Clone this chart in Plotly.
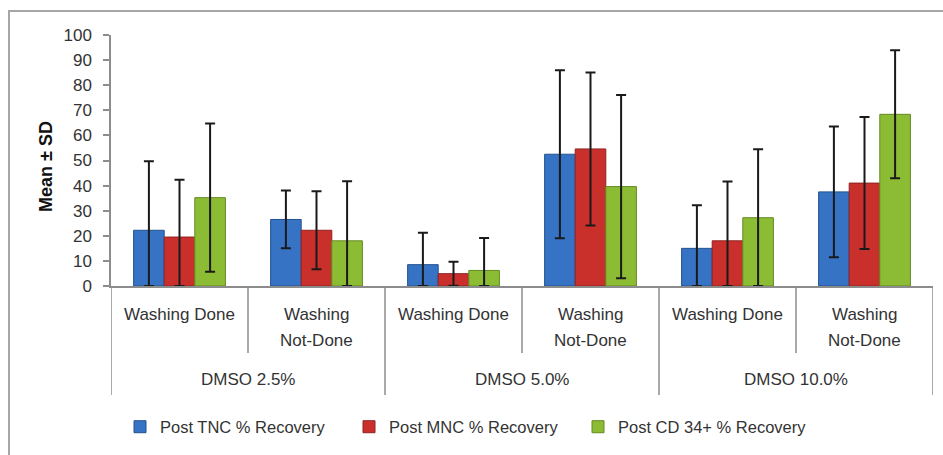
import plotly.graph_objects as go

# ---------------- data ----------------
dmso_levels = ["DMSO 2.5%", "DMSO 5.0%", "DMSO 10.0%"]
washing_labels = ["Washing Done", "Washing<br>Not-Done"]
categories = [f"{d} | {w}" for d in dmso_levels for w in washing_labels]

series_names = ["Post TNC % Recovery", "Post MNC % Recovery", "Post CD 34+ % Recovery"]
tnc_mean = [22.2, 26.5, 8.5, 52.5, 15.0, 37.5]
tnc_sd = [27.5, 11.5, 12.7, 33.5, 17.2, 26.0]
mnc_mean = [19.5, 22.2, 4.9, 54.6, 18.0, 41.0]
mnc_sd = [22.8, 15.5, 4.8, 30.5, 23.6, 26.3]
cd34_mean = [35.2, 18.0, 6.2, 39.6, 27.2, 68.4]
cd34_sd = [29.5, 23.7, 12.9, 36.5, 27.3, 25.5]

y_ticks = [0, 10, 20, 30, 40, 50, 60, 70, 80, 90, 100]

colors = ["#3673c4", "#c9302c", "#8cbc34"]
edge_colors = ["#24528f", "#902220", "#638a22"]

FONT = "Liberation Sans, Arial, sans-serif"
TXT = "#333333"
AX = "#8c8c8c"

fig = go.Figure()
for name, mean, sd, col, ecol in zip(
    series_names,
    [tnc_mean, mnc_mean, cd34_mean],
    [tnc_sd, mnc_sd, cd34_sd],
    colors,
    edge_colors,
):
    fig.add_trace(
        go.Bar(
            name=name,
            x=categories,
            y=mean,
            marker=dict(color=col, line=dict(color=ecol, width=1)),
            error_y=dict(
                type="data",
                symmetric=False,
                array=sd,
                arrayminus=[min(s, m) for s, m in zip(sd, mean)],
                color="#1a1a1a",
                thickness=2,
                width=5,
            ),
        )
    )

n = len(categories)

# paper-coordinate helpers (plot area: 111..933 px horizontally, 35..286 px vertically)
PL, PR, PT, PB = 111, 933, 35, 286


def px_x(p):
    return (p - PL) / (PR - PL)


def px_y(p):
    return (PB - p) / (PB - PT)


shapes = []
# outer frame
shapes.append(dict(type="rect", xref="paper", yref="paper",
                   x0=px_x(9), x1=px_x(950), y0=px_y(470), y1=px_y(11),
                   line=dict(color="#a6a6a6", width=2), fillcolor="rgba(0,0,0,0)",
                   layer="below"))
# table lines under the x axis
for i in range(n + 1):
    xb = i - 0.5
    long_line = (i % 2 == 0)
    shapes.append(dict(type="line", xref="x", yref="paper",
                       x0=xb, x1=xb, y0=px_y(286), y1=px_y(395 if long_line else 353),
                       line=dict(color=AX, width=1.5)))

annotations = []
for i, cat in enumerate(categories):
    lines = washing_labels[i % 2].split("<br>")
    for k, line in enumerate(lines):
        annotations.append(dict(x=i, y=px_y(314 + 26 * k), xref="x", yref="paper",
                                text=line, showarrow=False, yanchor="middle", xanchor="center",
                                font=dict(family=FONT, size=17, color=TXT)))
for j, d in enumerate(dmso_levels):
    annotations.append(dict(x=2 * j + 0.5, y=px_y(379), xref="x", yref="paper",
                            text=d, showarrow=False, yanchor="middle", xanchor="center",
                            font=dict(family=FONT, size=17, color=TXT)))
annotations.append(dict(x=px_x(46), y=px_y(167), xref="paper", yref="paper",
                        text="<b>Mean ± SD</b>", textangle=-90, showarrow=False,
                        xanchor="center", yanchor="middle",
                        font=dict(family=FONT, size=18, color="#111111")))

fig.update_layout(
    width=943,
    height=455,
    autosize=False,
    margin=dict(l=PL, r=943 - PR, t=PT, b=455 - PB, pad=0),
    paper_bgcolor="white",
    plot_bgcolor="white",
    barmode="group",
    bargap=0.33,
    bargroupgap=0,
    font=dict(family=FONT, size=17, color=TXT),
    showlegend=True,
    legend=dict(
        orientation="h",
        x=px_x(120),
        xanchor="left",
        y=px_y(427),
        yanchor="middle",
        font=dict(family=FONT, size=16.5, color=TXT),
        itemwidth=30,
        entrywidth=184,
        entrywidthmode="pixels",
        bgcolor="rgba(0,0,0,0)",
    ),
    xaxis=dict(
        type="category",
        categoryorder="array",
        categoryarray=categories,
        showticklabels=False,
        ticks="",
        showline=True,
        linecolor=AX,
        linewidth=1.5,
        showgrid=False,
        zeroline=False,
        range=[-0.5, n - 0.5],
    ),
    yaxis=dict(
        range=[0, 100],
        tickvals=y_ticks,
        ticktext=[str(v) for v in y_ticks],
        ticks="outside",
        ticklen=6,
        tickcolor=AX,
        tickwidth=1.5,
        ticklabelstandoff=8,
        showline=True,
        linecolor=AX,
        linewidth=1.5,
        showgrid=False,
        zeroline=False,
        tickfont=dict(family=FONT, size=17, color=TXT),
    ),
    shapes=shapes,
    annotations=annotations,
)

fig.write_html("out.html", config={"displayModeBar": False},
               post_script="document.body.style.margin='0';")
